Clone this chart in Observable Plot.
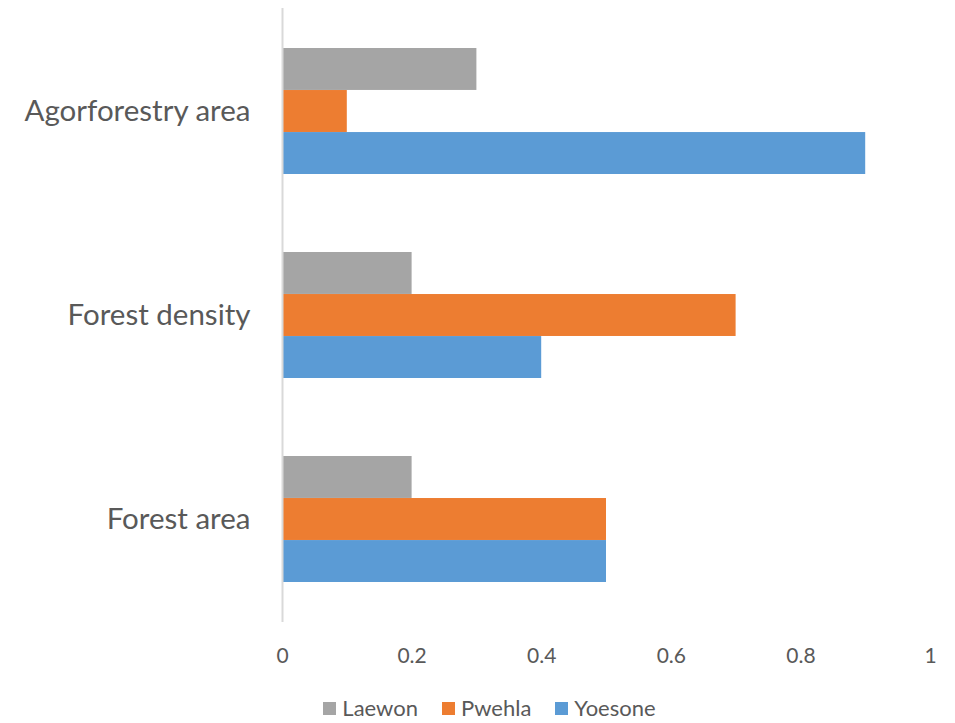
<!DOCTYPE html>
<html>
<head>
<meta charset="utf-8">
<script src="https://cdn.jsdelivr.net/npm/d3@7"></script>
<script src="https://cdn.jsdelivr.net/npm/@observablehq/plot@0.6"></script>
<style>
  body { margin: 0; background: #fff; font-family: Lato, "Open Sans", sans-serif; }
  #legend { display: flex; justify-content: center; gap: 24px; font-size: 22px; line-height: 26px; color: #595959; margin-left: 24px; margin-top: 5px; }
  #legend span.item { display: flex; align-items: center; gap: 6px; }
  #legend span.sw { width: 13px; height: 13px; display: inline-block; }
</style>
</head>
<body>
<div id="chart"></div>
<div id="legend"></div>
<script>
const categories = ["Agorforestry area", "Forest density", "Forest area"];
const seriesNames = ["Laewon", "Pwehla", "Yoesone"];
const seriesColors = ["#A5A5A5", "#ED7D31", "#5B9BD5"];
const laewon = [0.3, 0.2, 0.2];
const pwehla = [0.1, 0.7, 0.5];
const yoesone = [0.9, 0.4, 0.5];
const xTicks = [0, 0.2, 0.4, 0.6, 0.8, 1];
const xTickLabels = ["0", "0.2", "0.4", "0.6", "0.8", "1"];

const seriesValues = [laewon, pwehla, yoesone];
const rows = seriesNames.map((s, i) => categories.map((c, j) => ({category: c, series: s, value: seriesValues[i][j]})));

const W = 955, H = 690, mTop = 8, mBottom = 68;
const pi = 0.384, po = pi / 2;
const step = (H - mTop - mBottom) / (categories.length - pi + 2 * po);
const bw = step * (1 - pi);
const third = bw / seriesNames.length;

const marks = seriesNames.map((s, i) => Plot.barX(rows[i], {
  x: "value", y: "category", fill: seriesColors[i],
  insetTop: third * i, insetBottom: third * (seriesNames.length - 1 - i)
}));

const chart = Plot.plot({
  width: W, height: H,
  marginLeft: 282, marginRight: 25, marginTop: mTop, marginBottom: mBottom,
  style: {fontFamily: "Lato, 'Open Sans', sans-serif", color: "#595959", background: "#fff"},
  x: {domain: [0, 1], ticks: xTicks, tickFormat: (d) => xTickLabels[xTicks.indexOf(d)], tickSize: 0, tickPadding: 26, label: null},
  y: {domain: categories, paddingInner: pi, paddingOuter: po, tickSize: 0, tickPadding: 32, label: null},
  marks: [
    ...marks,
    Plot.ruleX([0], {stroke: "#d9d9d9", strokeWidth: 2}),
    Plot.axisX({ticks: xTicks, tickFormat: (d) => xTickLabels[xTicks.indexOf(d)], tickSize: 0, tickPadding: 26, fontSize: 21, label: null}),
    Plot.axisY({tickSize: 0, tickPadding: 32, fontSize: 29.5, label: null})
  ]
});
document.getElementById("chart").appendChild(chart);

const legend = document.getElementById("legend");
seriesNames.forEach((s, i) => {
  const item = document.createElement("span");
  item.className = "item";
  item.innerHTML = `<span class="sw" style="background:${seriesColors[i]}"></span><span>${s}</span>`;
  legend.appendChild(item);
});
</script>
</body>
</html>
